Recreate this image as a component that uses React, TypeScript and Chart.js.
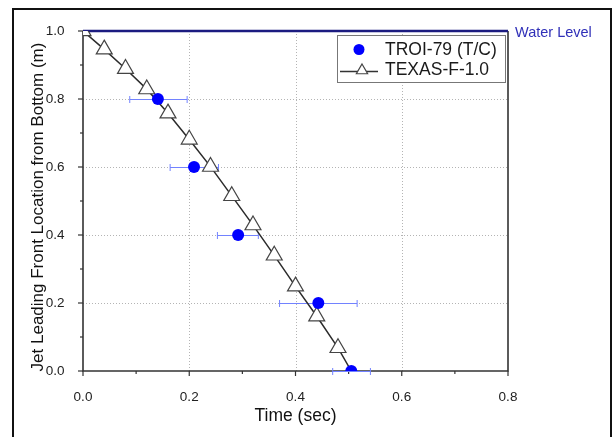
import React, { useEffect, useRef } from "react";
import { Chart, registerables } from "chart.js";

Chart.register(...registerables);

// ---------- data ----------
const texasTime = [0, 0.04, 0.08, 0.12, 0.16, 0.2, 0.24, 0.28, 0.32, 0.36, 0.4, 0.44, 0.48, 0.505];
const texasPos = [1.0, 0.946, 0.889, 0.829, 0.758, 0.681, 0.601, 0.515, 0.429, 0.34, 0.249, 0.161, 0.068, 0.0];
const texasMarker = [1, 1, 1, 1, 1, 1, 1, 1, 1, 1, 1, 1, 1, 0];

const troiTime = [0.141, 0.209, 0.292, 0.443, 0.505];
const troiPos = [0.8, 0.6, 0.4, 0.2, 0.0];
const troiTimeLow = [0.088, 0.164, 0.253, 0.37, 0.47];
const troiTimeHigh = [0.196, 0.255, 0.33, 0.516, 0.541];

const xTicks = [0, 0.2, 0.4, 0.6, 0.8];
const xMinorTicks = [0.1, 0.3, 0.5, 0.7];
const yTicks = [0, 0.2, 0.4, 0.6, 0.8, 1.0];
const yMinorTicks = [0.1, 0.3, 0.5, 0.7, 0.9];
const waterLevel = 1.0;

const seriesNames = ["TROI-79 (T/C)", "TEXAS-F-1.0"];
const xTitle = "Time (sec)";
const yTitle = "Jet Leading Front Location from Bottom (m)";
const waterLabel = "Water Level";

const FONT = "'Liberation Sans', Arial, Helvetica, sans-serif";

function tri(ctx: CanvasRenderingContext2D, cx: number, cy: number, r: number) {
  const s = Math.sin(Math.PI / 3) * r;
  ctx.beginPath();
  ctx.moveTo(cx, cy - r);
  ctx.lineTo(cx + s, cy + r / 2);
  ctx.lineTo(cx - s, cy + r / 2);
  ctx.closePath();
}

const decor = {
  id: "decor",
  beforeDatasetsDraw(chart: any) {
    const { ctx, chartArea: a, scales } = chart;
    const x = scales.x;
    const y = scales.y;
    ctx.save();
    // dotted grid
    ctx.strokeStyle = "#b4b4b4";
    ctx.lineWidth = 1;
    ctx.setLineDash([1, 2]);
    xTicks.slice(1, -1).forEach((v) => {
      const px = Math.round(x.getPixelForValue(v)) + 0.5;
      ctx.beginPath();
      ctx.moveTo(px, a.top);
      ctx.lineTo(px, a.bottom);
      ctx.stroke();
    });
    yTicks.slice(1, -1).forEach((v) => {
      const py = Math.round(y.getPixelForValue(v)) + 0.5;
      ctx.beginPath();
      ctx.moveTo(a.left, py);
      ctx.lineTo(a.right, py);
      ctx.stroke();
    });
    ctx.setLineDash([]);

    // axes
    ctx.strokeStyle = "#333";
    ctx.lineWidth = 1.6;
    ctx.beginPath();
    ctx.moveTo(a.left, a.top);
    ctx.lineTo(a.left, a.bottom);
    ctx.lineTo(a.right, a.bottom);
    ctx.lineTo(a.right, a.top);
    ctx.stroke();

    // ticks
    ctx.lineWidth = 1.2;
    xTicks.forEach((v) => {
      const px = x.getPixelForValue(v);
      ctx.beginPath();
      ctx.moveTo(px, a.bottom);
      ctx.lineTo(px, a.bottom + 5);
      ctx.stroke();
    });
    xMinorTicks.forEach((v) => {
      const px = x.getPixelForValue(v);
      ctx.beginPath();
      ctx.moveTo(px, a.bottom);
      ctx.lineTo(px, a.bottom + 3);
      ctx.stroke();
    });
    yTicks.forEach((v) => {
      const py = y.getPixelForValue(v);
      ctx.beginPath();
      ctx.moveTo(a.left, py);
      ctx.lineTo(a.left - 5, py);
      ctx.stroke();
    });
    yMinorTicks.forEach((v) => {
      const py = y.getPixelForValue(v);
      ctx.beginPath();
      ctx.moveTo(a.left, py);
      ctx.lineTo(a.left - 3, py);
      ctx.stroke();
    });

    // water level line
    const wy = y.getPixelForValue(waterLevel);
    ctx.strokeStyle = "#1b1b80";
    ctx.lineWidth = 2.5;
    ctx.beginPath();
    ctx.moveTo(a.left, wy);
    ctx.lineTo(a.right, wy);
    ctx.stroke();

    // error bars
    ctx.strokeStyle = "#7282ff";
    ctx.lineWidth = 1;
    troiPos.forEach((v, i) => {
      const py = Math.round(y.getPixelForValue(v)) + 0.5;
      const xl = x.getPixelForValue(troiTimeLow[i]);
      const xh = x.getPixelForValue(troiTimeHigh[i]);
      ctx.beginPath();
      ctx.moveTo(xl, py);
      ctx.lineTo(xh, py);
      ctx.moveTo(xl, py - 3.5);
      ctx.lineTo(xl, py + 3.5);
      ctx.moveTo(xh, py - 3.5);
      ctx.lineTo(xh, py + 3.5);
      ctx.stroke();
    });
    ctx.restore();
  },
  afterDatasetsDraw(chart: any) {
    const { ctx, chartArea: a, scales } = chart;
    const y = scales.y;
    ctx.save();
    // water level label
    ctx.fillStyle = "#3030b8";
    ctx.font = `14.5px ${FONT}`;
    ctx.textAlign = "left";
    ctx.textBaseline = "middle";
    ctx.fillText(waterLabel, a.right + 7, y.getPixelForValue(waterLevel) + 1.5);

    // legend
    ctx.fillStyle = "#fff";
    ctx.fillRect(337.5, 35.5, 168, 47);
    ctx.strokeStyle = "#777";
    ctx.lineWidth = 1;
    ctx.strokeRect(337.5, 35.5, 168, 47);
    ctx.fillStyle = "#0000ff";
    ctx.beginPath();
    ctx.arc(359, 49.5, 5.5, 0, Math.PI * 2);
    ctx.fill();
    ctx.strokeStyle = "#333";
    ctx.lineWidth = 1.5;
    ctx.beginPath();
    ctx.moveTo(340, 71.5);
    ctx.lineTo(378, 71.5);
    ctx.stroke();
    tri(ctx, 362, 70.5, 6.5);
    ctx.fillStyle = "#fff";
    ctx.fill();
    ctx.lineWidth = 1.2;
    ctx.strokeStyle = "#444";
    ctx.stroke();
    ctx.fillStyle = "#1a1a1a";
    ctx.font = `17.5px ${FONT}`;
    ctx.textBaseline = "middle";
    ctx.fillText(seriesNames[0], 385, 50);
    ctx.fillText(seriesNames[1], 385, 70.5);

    // y title
    ctx.save();
    ctx.translate(38, 207);
    ctx.rotate(-Math.PI / 2);
    ctx.textAlign = "center";
    ctx.textBaseline = "middle";
    ctx.font = `17px ${FONT}`;
    ctx.fillStyle = "#111";
    ctx.fillText(yTitle, 0, 0);
    ctx.restore();

    // outer frame
    ctx.strokeStyle = "#111";
    ctx.lineWidth = 2;
    ctx.strokeRect(13, 9, 598, 460);
    ctx.restore();
  },
};

export default function App() {
  const ref = useRef<HTMLCanvasElement>(null);
  useEffect(() => {
    if (!ref.current) return;
    const chart = new Chart(ref.current, {
      type: "scatter",
      data: {
        datasets: [
          {
            label: seriesNames[0],
            data: troiTime.map((t, i) => ({ x: t, y: troiPos[i] })),
            showLine: false,
            pointStyle: "circle",
            pointRadius: 6,
            pointBackgroundColor: "#0000ff",
            pointBorderColor: "#0000ff",
            pointBorderWidth: 0,
            order: 0,
          },
          {
            label: seriesNames[1],
            data: texasTime.map((t, i) => ({ x: t, y: texasPos[i] })),
            showLine: true,
            borderColor: "#2b2b2b",
            borderWidth: 1.5,
            pointStyle: "triangle",
            pointRadius: texasMarker.map((m) => (m ? 9.2 : 0)),
            pointBackgroundColor: "#ffffff",
            pointBorderColor: "#444",
            pointBorderWidth: 1.2,
            order: 1,
          },
        ],
      },
      options: {
        responsive: false,
        animation: false,
        layout: { padding: { left: 0, right: 104, top: 31, bottom: 0 } },
        plugins: { legend: { display: false }, tooltip: { enabled: false } },
        scales: {
          x: {
            type: "linear",
            min: 0,
            max: 0.8,
            afterBuildTicks: (s: any) => {
              s.ticks = xTicks.map((v) => ({ value: v }));
            },
            afterFit: (s: any) => {
              s.height = 66;
            },
            grid: { display: false },
            border: { display: false },
            ticks: {
              padding: 10,
              color: "#222",
              font: { family: FONT, size: 13.5 },
              maxRotation: 0,
              autoSkip: false,
              callback: (v: any) => Number(v).toFixed(1),
            },
            title: {
              display: true,
              text: xTitle,
              color: "#111",
              font: { family: FONT, size: 17.5 },
              padding: { top: 0, bottom: 10.5 },
            },
          },
          y: {
            type: "linear",
            min: 0,
            max: 1.0,
            afterBuildTicks: (s: any) => {
              s.ticks = yTicks.map((v) => ({ value: v }));
            },
            afterFit: (s: any) => {
              s.width = 83;
            },
            grid: { display: false },
            border: { display: false },
            ticks: {
              padding: 10.5,
              color: "#222",
              font: { family: FONT, size: 13.5 },
              autoSkip: false,
              callback: (v: any) => Number(v).toFixed(1),
            },
            title: { display: false },
          },
        },
      },
      plugins: [decor],
    });
    return () => chart.destroy();
  }, []);
  return (
    <div style={{ position: "fixed", left: 0, top: 0, width: 612, height: 437, background: "#fff" }}>
      <canvas ref={ref} width={612} height={437} />
    </div>
  );
}
